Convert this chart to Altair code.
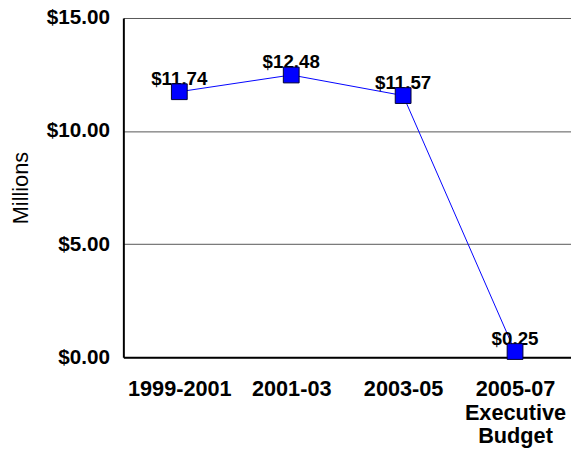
import altair as alt
import pandas as pd

periods = ["1999-2001", "2001-03", "2003-05", "2005-07|Executive|Budget"]
values = [11.74, 12.48, 11.57, 0.25]
labels = ["$11.74", "$12.48", "$11.57", "$0.25"]

df = pd.DataFrame({"period": periods, "value": values, "label": labels})

FONT = "Liberation Sans"

x = alt.X("period:N", sort=periods,
          scale=alt.Scale(paddingInner=0, paddingOuter=0),
          axis=alt.Axis(title=None, labelAngle=0, labelFontWeight="bold", labelFontSize=22,
                        labelFont=FONT, labelColor="black", labelPadding=22, ticks=False,
                        domainColor="black", domainWidth=2,
                        labelExpr="split(datum.label, '|')", labelLineHeight=24,
                        labelBaseline="top"))
y = alt.Y("value:Q", scale=alt.Scale(domain=[0, 15]),
          axis=alt.Axis(title="Millions", values=[0, 5, 10, 15], format="$.2f",
                        labelFontWeight="bold", labelFontSize=21, labelFont=FONT,
                        labelColor="black", labelPadding=14, ticks=False,
                        domainColor="black", domainWidth=2,
                        gridColor="#555555", gridWidth=1,
                        titleFont=FONT, titleFontSize=22, titleFontWeight="normal",
                        titleColor="black", titlePadding=14))

base = alt.Chart(df).encode(x=x, y=y)

line = base.mark_line(color="#0000FF", strokeWidth=1)
text = base.mark_text(fontWeight="bold", fontSize=19, font=FONT, color="black",
                      dy=-7, baseline="alphabetic", align="center").encode(text="label:N")
pts = base.mark_point(shape="square", size=256, filled=True, fill="#0000FF",
                      stroke="#000033", strokeWidth=1, opacity=1)

chart = alt.layer(line, text, pts).properties(
    width=454, height=344,
    autosize=alt.AutoSizeParams(type="none"),
    padding={"left": 117, "top": 7, "right": 0, "bottom": 92},
).configure_view(stroke=None)

chart.save("out.html", embed_options={"renderer": "svg", "actions": False})
